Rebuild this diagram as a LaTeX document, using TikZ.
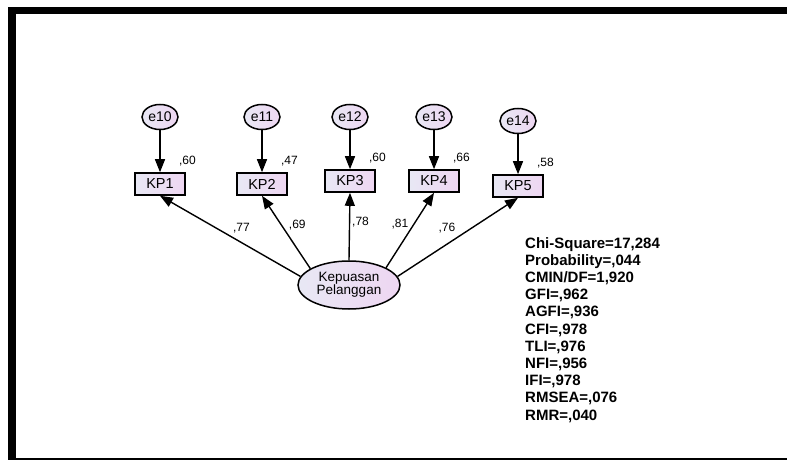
\documentclass[tikz,border=0pt]{standalone}
\usepackage{fontspec}
\setmainfont{Liberation Sans}
\usetikzlibrary{arrows.meta, shapes.geometric, positioning}

\definecolor{fillleft}{RGB}{232,232,244}
\definecolor{fillright}{RGB}{238,214,242}

\begin{document}
\begin{tikzpicture}[
        x = 1pt, y = -1pt,
        on grid,
        >= {Triangle[length = 13pt, width = 10pt]},
        indicator/.style = {draw, line width = 1.6pt, rectangle, minimum width = 50pt,
            minimum height = 22pt, inner sep = 0pt, left color = fillleft, right color = fillright,
            font = \fontsize{14.5}{16}\selectfont},
        error/.style = {draw, line width = 1.5pt, ellipse, minimum width = 36pt,
            minimum height = 25pt, inner sep = 0pt, left color = fillleft, right color = fillright,
            font = \fontsize{14}{16}\selectfont},
        latent/.style = {draw, line width = 1.5pt, ellipse, minimum width = 102pt,
            minimum height = 48pt, inner sep = 0pt, align = center, left color = fillleft,
            right color = fillright, font = \fontsize{13.5}{13.5}\selectfont},
        lbl/.style = {inner sep = 0pt, font = \fontsize{12}{14}\selectfont},
        path/.style = {->, line width = 1.4pt}
    ]

        \useasboundingbox (0,0) rectangle (787,462);

        % frame
        \fill (8,7) rectangle (787,14);
        \fill (8,7) rectangle (16,460);
        \fill (8,458) rectangle (787,460);


        \node[indicator] (kp1) at (160,184) {KP1};
        \node[indicator] (kp2) at (262,184) {KP2};
        \node[indicator] (kp3) at (350,181) {KP3};
        \node[indicator] (kp4) at (434,181) {KP4};
        \node[indicator] (kp5) at (518,186) {KP5};

        \node[error] (e10) [above = 67pt of kp1] {e10};
        \node[error] (e11) [above = 67pt of kp2] {e11};
        \node[error] (e12) [above = 64pt of kp3] {e12};
        \node[error] (e13) [above = 64pt of kp4] {e13};
        \node[error] (e14) [above = 65pt of kp5] {e14};

        \node[latent] (kepuasan) at (349,285) {Kepuasan\\Pelanggan};

        \node[lbl, anchor = base west] (r1) at ([shift = {(-7pt,8pt)}]kp1.north east) {,60};
        \node[lbl, anchor = base west] (r2) at ([shift = {(-7pt,8pt)}]kp2.north east) {,47};
        \node[lbl, anchor = base west] (r3) at ([shift = {(-7pt,8pt)}]kp3.north east) {,60};
        \node[lbl, anchor = base west] (r4) at ([shift = {(-7pt,8pt)}]kp4.north east) {,66};
        \node[lbl, anchor = base west] (r5) at ([shift = {(-7pt,8pt)}]kp5.north east) {,58};


        \path[path]
            (e10) edge (kp1)
            (e11) edge (kp2)
            (e12) edge (kp3)
            (e13) edge (kp4)
            (e14) edge (kp5);

        \path[path]
            (kepuasan.170) edge node [lbl, pos = 0.42, yshift = 14pt] {,77} (kp1.south)
            (kepuasan.157) edge node [lbl, pos = 0.6, xshift = 16pt] {,69} (kp2.south)
            (kepuasan.north) edge node [lbl, pos = 0.56, xshift = 11pt] {,78} (kp3.south)
            (kepuasan.25) edge node [lbl, pos = 0.58, xshift = -14pt] {,81} (kp4.south)
            (kepuasan.10) edge node [lbl, pos = 0.41, yshift = 16pt] {,76} (kp5.south);


        \node[anchor = north west, inner sep = 0pt, align = left,
            font = \fontsize{15}{17.2}\selectfont\bfseries] (fit) at (525,237)
            {Chi-Square=17,284\\Probability=,044\\CMIN/DF=1,920\\GFI=,962\\AGFI=,936\\CFI=,978\\TLI=,976\\NFI=,956\\IFI=,978\\RMSEA=,076\\RMR=,040};


    \end{tikzpicture}
\end{document}
